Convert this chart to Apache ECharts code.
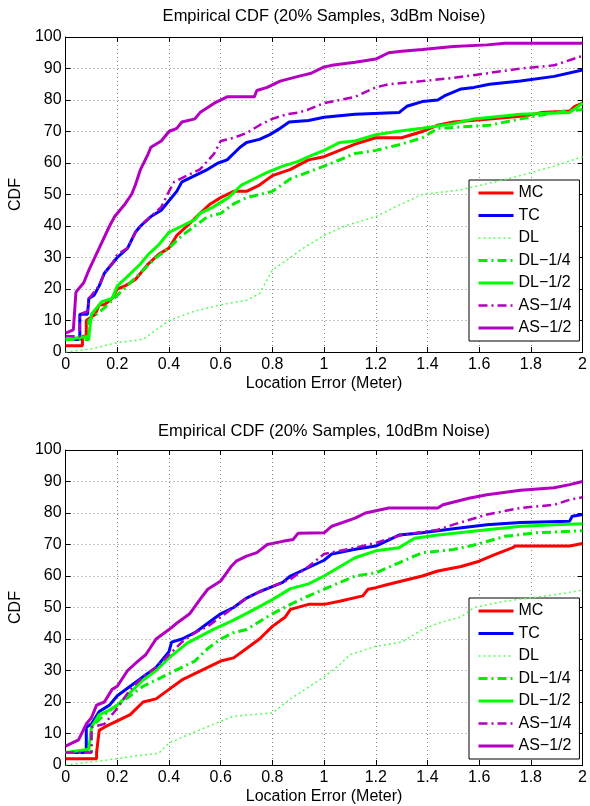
<!DOCTYPE html>
<html>
<head>
<meta charset="utf-8">
<script src="https://cdn.jsdelivr.net/npm/echarts@6/dist/echarts.min.js"></script>
<style>html,body{margin:0;padding:0;background:#fff}#c{width:590px;height:806px}</style>
</head>
<body>
<div id="c"></div>
<script>
// ---- data ----
const seriesNames = ['MC', 'TC', 'DL', 'DL\u22121/4', 'DL\u22121/2', 'AS\u22121/4', 'AS\u22121/2'];
const xTicks = [0, 0.2, 0.4, 0.6, 0.8, 1, 1.2, 1.4, 1.6, 1.8, 2];
const yTicks = [0, 10, 20, 30, 40, 50, 60, 70, 80, 90, 100];
const titles = ['Empirical CDF (20% Samples, 3dBm Noise)', 'Empirical CDF (20% Samples, 10dBm Noise)'];

// Top panel (3dBm)
const topMC = [[0,2],[0.065,2],[0.065,5],[0.08,5],[0.08,10],[0.115,12],[0.13,15],[0.15,15],[0.18,17],[0.2,20],[0.23,21],[0.27,23],[0.29,25],[0.32,28],[0.36,31],[0.4,33],[0.43,37],[0.47,40],[0.52,44],[0.56,47],[0.6,49],[0.65,51],[0.7,51],[0.75,53],[0.8,56],[0.87,58],[0.94,61],[1.0,62],[1.06,64],[1.12,66],[1.2,68],[1.3,68],[1.38,70],[1.44,72],[1.5,73],[1.64,74],[1.78,75],[1.84,76],[1.95,76.5],[1.97,78],[2.0,79]];
const topTC = [[0,4],[0.055,4],[0.055,12],[0.085,12],[0.09,17],[0.11,18],[0.13,21],[0.15,25],[0.18,28],[0.2,30],[0.24,33],[0.27,38],[0.29,40],[0.33,43],[0.37,45],[0.4,48],[0.43,51],[0.45,54],[0.5,56],[0.55,58],[0.59,60],[0.625,61],[0.675,65],[0.7,66.5],[0.75,67.5],[0.79,69],[0.83,71],[0.865,73],[0.94,73.5],[1.0,74.5],[1.12,75.5],[1.29,76],[1.32,78],[1.38,79.5],[1.44,80],[1.47,81.5],[1.53,83.5],[1.58,84],[1.64,85],[1.76,86],[1.89,87.5],[2.0,89.5]];
const topDL = [[0,0],[0.1,1],[0.2,3],[0.3,4],[0.35,7],[0.4,10],[0.5,13],[0.6,15],[0.7,16.4],[0.75,18.5],[0.8,26],[0.87,30],[0.92,33],[1.0,37],[1.08,40],[1.2,43],[1.3,47],[1.38,50],[1.53,51.5],[1.66,54],[1.76,56],[1.89,59],[2.0,62]];
const topDL14 = [[0,4],[0.09,4],[0.09,10],[0.15,14],[0.2,18],[0.25,22],[0.3,26],[0.35,30],[0.4,33],[0.45,37],[0.5,40],[0.55,43],[0.6,44],[0.65,47],[0.7,49],[0.8,51],[0.87,55],[1.0,59],[1.12,63],[1.2,64],[1.3,66],[1.38,68],[1.44,71],[1.64,72],[1.76,74],[1.89,76],[2.0,77]];
const topDL12 = [[0,4],[0.09,5],[0.1,12],[0.14,16],[0.18,17],[0.2,21],[0.24,24],[0.29,28],[0.32,31],[0.36,34],[0.4,38],[0.45,40],[0.5,42],[0.52,44],[0.57,46],[0.63,49],[0.68,53],[0.73,55],[0.78,57],[0.84,59],[0.9,60.5],[0.94,62],[1.0,64],[1.06,66.5],[1.12,67],[1.2,69],[1.28,70],[1.38,71],[1.5,72.5],[1.58,74],[1.76,75.5],[1.95,76],[2.0,79]];
const topAS14 = [[0,5],[0.055,5],[0.055,12],[0.085,13],[0.09,17],[0.13,21],[0.15,25],[0.18,28],[0.2,31],[0.24,33],[0.27,38],[0.3,41],[0.33,43],[0.37,46],[0.4,51],[0.42,54],[0.47,56],[0.52,58],[0.575,63],[0.6,67],[0.65,68],[0.7,69.5],[0.75,72],[0.8,74],[0.855,75.5],[0.9,76],[0.94,77],[1.0,79],[1.06,80],[1.12,81],[1.2,84],[1.25,85],[1.38,86],[1.5,87],[1.59,88],[1.76,90],[1.89,91],[2.0,94]];
const topAS12 = [[0,6],[0.03,7],[0.04,19],[0.07,22],[0.09,26],[0.13,33],[0.17,40],[0.19,43],[0.23,47],[0.255,50],[0.27,53],[0.29,58],[0.32,63],[0.33,65],[0.37,67],[0.4,70],[0.43,71],[0.45,73],[0.5,74],[0.52,76],[0.575,79],[0.625,81],[0.73,81],[0.74,83],[0.78,84],[0.83,86],[0.9,87.5],[0.95,88.5],[1.0,90.5],[1.03,91],[1.12,92],[1.2,93],[1.25,95],[1.3,95.5],[1.38,96],[1.5,97],[1.63,97.5],[1.7,98],[2.0,98]];

// Bottom panel (10dBm)
const botMC = [[0,2],[0.12,2],[0.12,4],[0.13,11],[0.15,12],[0.2,14],[0.25,16],[0.3,20],[0.35,21],[0.4,24],[0.45,27],[0.5,29],[0.55,31],[0.6,33],[0.65,34],[0.7,37],[0.75,40],[0.8,44],[0.85,47],[0.87,49.4],[0.94,51],[1.0,51],[1.06,52],[1.15,53.7],[1.17,55.8],[1.2,56.3],[1.25,57.4],[1.38,60],[1.44,61.6],[1.53,63],[1.6,64.7],[1.66,66.8],[1.73,69],[1.74,69.5],[1.95,69.5],[2.0,70.3]];
const botTC = [[0,4],[0.08,4],[0.08,12],[0.1,13],[0.13,17],[0.17,19],[0.2,22],[0.25,25],[0.3,28],[0.35,31],[0.4,36],[0.41,39],[0.45,40],[0.5,42],[0.55,45],[0.6,48],[0.65,50],[0.7,53],[0.75,55],[0.78,56],[0.84,58],[0.87,60],[1.0,65],[1.03,67],[1.12,68.5],[1.2,69.5],[1.29,73],[1.38,73.7],[1.5,75],[1.63,76.3],[1.76,77],[1.95,77.4],[1.96,79],[2.0,79.5]];
const botDL = [[0,0],[0.1,1],[0.2,2],[0.3,3.2],[0.36,3.7],[0.4,7],[0.52,11.2],[0.65,15.5],[0.8,16.5],[0.87,21],[1.0,28],[1.06,31.8],[1.1,35],[1.2,37.7],[1.3,39],[1.38,43],[1.44,45],[1.53,47],[1.58,50],[1.7,52],[1.89,54],[2.0,55.5]];
const botDL14 = [[0,4],[0.1,4],[0.1,12],[0.15,16],[0.2,19],[0.25,22],[0.3,25],[0.4,29],[0.45,31],[0.5,33],[0.55,37],[0.6,40],[0.65,42],[0.7,43],[0.8,48],[0.87,51],[0.94,53.7],[1.0,55.8],[1.12,60],[1.2,61],[1.29,64.2],[1.38,67.4],[1.5,68.4],[1.59,70],[1.7,72.6],[1.82,73.7],[1.95,74.2],[2.0,74.4]];
const botDL12 = [[0,4],[0.09,5],[0.1,12],[0.13,16],[0.16,17],[0.2,19],[0.25,23],[0.3,27],[0.35,30],[0.4,34],[0.47,38.7],[0.57,43],[0.65,46],[0.73,49.4],[0.8,52.5],[0.87,56],[0.94,57.5],[1.0,60],[1.12,65.8],[1.2,68],[1.29,69],[1.35,72],[1.44,73],[1.63,74.7],[1.76,75.8],[1.89,76.3],[2.0,76.6]];
const botAS14 = [[0,4],[0.1,4],[0.1,12],[0.15,13],[0.2,18],[0.25,24],[0.3,28],[0.35,31],[0.4,35],[0.45,39],[0.5,42],[0.55,44],[0.6,47],[0.7,53],[0.75,55],[0.87,59],[0.94,63],[1.0,67],[1.12,69],[1.2,70.5],[1.3,73],[1.38,74],[1.44,74.7],[1.5,76.3],[1.63,79.5],[1.76,81.6],[1.89,82.6],[1.95,84.2],[2.0,85]];
const botAS12 = [[0,6],[0.05,8],[0.08,13],[0.1,15],[0.12,19],[0.15,20],[0.18,24],[0.2,25],[0.24,30],[0.28,33],[0.31,35],[0.35,40],[0.4,43],[0.43,45],[0.48,48],[0.52,52.6],[0.55,55.8],[0.6,58.4],[0.64,63],[0.66,64.7],[0.7,66.3],[0.74,67.4],[0.78,70],[0.84,71],[0.88,71.6],[0.9,73.6],[1.0,73.7],[1.03,75.8],[1.12,78.4],[1.16,80],[1.25,81.6],[1.44,81.6],[1.46,82.6],[1.56,84.7],[1.63,85.8],[1.76,87.2],[1.89,88],[1.95,89],[2.0,90]];

const topData = [topMC, topTC, topDL, topDL14, topDL12, topAS14, topAS12];
const botData = [botMC, botTC, botDL, botDL14, botDL12, botAS14, botAS12];

// ---- styles ----
const FONT = 'Liberation Sans, Arial, Helvetica, sans-serif';
const DASHDOT = [9, 4, 2, 4];
const styles = [
  {color:'#ff0000', width:3, type:'solid'},
  {color:'#0000ff', width:3, type:'solid'},
  {color:'#55ff55', width:1.5, type:[2,3]},
  {color:'#00ee00', width:3, type:DASHDOT},
  {color:'#00ff00', width:3, type:'solid'},
  {color:'#b300c0', width:2.5, type:DASHDOT},
  {color:'#b300c0', width:3, type:'solid'}
];
const grids = [
  {left:63, top:37, width:522, height:315},
  {left:63, top:450, width:522, height:315}
];

function mainX(gi){
  return {gridIndex:gi, type:'value', min:0, max:2, interval:0.2, position:'bottom',
    name:'Location Error (Meter)', nameLocation:'middle', nameGap:24,
    nameTextStyle:{fontFamily:FONT, fontSize:16, color:'#000'},
    axisLine:{show:true, onZero:false, lineStyle:{color:'#000', width:1}},
    axisTick:{show:true, inside:true, length:5, lineStyle:{color:'#000'}},
    axisLabel:{show:true, fontFamily:FONT, fontSize:16, color:'#000', margin:5, showMinLabel:true, showMaxLabel:true,
      formatter: v => String(Math.round(v*10)/10)},
    splitLine:{show:true, lineStyle:{color:'#888', type:[1,3], width:1}}};
}
function topX(gi){
  return {gridIndex:gi, type:'value', min:0, max:2, interval:0.2, position:'top',
    axisLine:{show:true, onZero:false, lineStyle:{color:'#000', width:1}},
    axisTick:{show:true, inside:true, length:5, lineStyle:{color:'#000'}},
    axisLabel:{show:false}, splitLine:{show:false}};
}
function mainY(gi){
  return {gridIndex:gi, type:'value', min:0, max:100, interval:10, position:'left',
    name:'CDF', nameLocation:'middle', nameGap:36, nameRotate:90,
    nameTextStyle:{fontFamily:FONT, fontSize:16, color:'#000'},
    axisLine:{show:true, onZero:false, lineStyle:{color:'#000', width:1}},
    axisTick:{show:true, inside:true, length:5, lineStyle:{color:'#000'}},
    axisLabel:{show:true, fontFamily:FONT, fontSize:16, color:'#000', margin:4, showMinLabel:true, showMaxLabel:true},
    splitLine:{show:true, lineStyle:{color:'#888', type:[1,3], width:1}}};
}
function rightY(gi){
  return {gridIndex:gi, type:'value', min:0, max:100, interval:10, position:'right',
    axisLine:{show:true, onZero:false, lineStyle:{color:'#000', width:1}},
    axisTick:{show:true, inside:true, length:5, lineStyle:{color:'#000'}},
    axisLabel:{show:false}, splitLine:{show:false}};
}

const series = [];
[topData, botData].forEach((set, gi) => {
  set.forEach((d, i) => {
    series.push({
      name: seriesNames[i], type:'line', xAxisIndex: gi*2, yAxisIndex: gi*2,
      data: d, showSymbol:false, symbol:'none', clip:true, animation:false,
      lineStyle:{color:styles[i].color, width:styles[i].width, type:styles[i].type},
      itemStyle:{color:styles[i].color}, z: 2 + i
    });
  });
});

function legendAt(top){
  return {data: seriesNames, orient:'vertical', left:469, top: top,
    backgroundColor:'#fff', borderColor:'#000', borderWidth:1, borderRadius:0,
    padding:[5,8,5,8], itemGap:6.5, itemWidth:35, itemHeight:14,
    selectedMode:false,
    itemStyle:{opacity:0, borderWidth:0},
    lineStyle:{width:'inherit', type:'inherit'},
    textStyle:{fontFamily:FONT, fontSize:16, color:'#000', lineHeight:16}};
}

const option = {
  backgroundColor:'#fff',
  animation:false,
  title: [
    {text:titles[0], left:324, top:8, textAlign:'center', padding:0,
      textStyle:{fontFamily:FONT, fontSize:16.5, fontWeight:'normal', color:'#000'}},
    {text:titles[1], left:324, top:423, textAlign:'center', padding:0,
      textStyle:{fontFamily:FONT, fontSize:16.5, fontWeight:'normal', color:'#000'}}
  ],
  grid: grids.map(g => Object.assign({containLabel:false, show:false}, g)),
  xAxis: [mainX(0), topX(0), mainX(1), topX(1)],
  yAxis: [mainY(0), rightY(0), mainY(1), rightY(1)],
  legend: [legendAt(180), legendAt(598)],
  series: series
};

const chart = echarts.init(document.getElementById('c'), null, {renderer:'canvas'});
chart.setOption(option);
</script>
</body>
</html>
